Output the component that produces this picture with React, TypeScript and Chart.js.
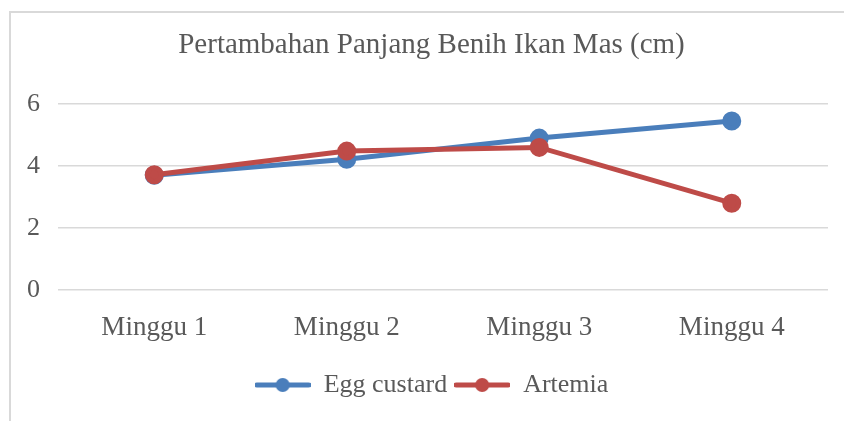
import React, { useEffect, useRef } from "react";
import { Chart, registerables } from "chart.js";

Chart.register(...registerables);

const titleText = "Pertambahan Panjang Benih Ikan Mas (cm)";
const categories = ["Minggu 1", "Minggu 2", "Minggu 3", "Minggu 4"];
const seriesNames = ["Egg custard", "Artemia"];
const eggCustard = [3.7, 4.22, 4.9, 5.45];
const artemia = [3.72, 4.48, 4.6, 2.8];
const yTicks = [0, 2, 4, 6];
const colors = ["#4A7EBB", "#BE4B48"];

const FONT = "'Liberation Serif', 'Times New Roman', serif";
const TEXT = "#595959";

function makeMarker(color: string) {
  const c = document.createElement("canvas");
  c.width = 56;
  c.height = 16;
  const ctx = c.getContext("2d")!;
  ctx.strokeStyle = color;
  ctx.lineWidth = 5;
  ctx.lineCap = "round";
  ctx.beginPath();
  ctx.moveTo(2, 8);
  ctx.lineTo(54, 8);
  ctx.stroke();
  ctx.fillStyle = color;
  ctx.beginPath();
  ctx.arc(28, 8, 7, 0, Math.PI * 2);
  ctx.fill();
  return c;
}

const yAxisLeftFix = {
  id: "yAxisLeftFix",
  afterLayout(chart: any) {
    const y = chart.scales.y;
    if (y) y.left = 0;
  },
};

export default function App() {
  const ref = useRef<HTMLCanvasElement | null>(null);

  useEffect(() => {
    if (!ref.current) return;
    const markers = colors.map((c) => makeMarker(c));
    const values = [eggCustard, artemia];
    const chart = new Chart(ref.current, {
      type: "line",
      data: {
        labels: categories,
        datasets: seriesNames.map((name, i) => ({
          label: name,
          data: values[i],
          borderColor: colors[i],
          backgroundColor: colors[i],
          pointBackgroundColor: colors[i],
          pointBorderColor: colors[i],
          borderWidth: 5,
          pointRadius: 7,
          pointHoverRadius: 7,
          tension: 0,
          order: i === 0 ? 2 : 1,
        })),
      },
      plugins: [yAxisLeftFix],
      options: {
        animation: false,
        responsive: false,
        devicePixelRatio: 1,
        layout: { padding: { left: 35, right: 16, top: 0, bottom: 13 } },
        plugins: {
          tooltip: { enabled: false },
          title: {
            display: true,
            text: titleText,
            color: TEXT,
            font: { family: FONT, size: 29, weight: "normal" },
            padding: { top: 27.6, bottom: 41.6 },
          },
          legend: {
            position: "bottom",
            labels: {
              color: TEXT,
              font: { family: FONT, size: 26 },
              padding: 7,
              usePointStyle: true,
              pointStyleWidth: 56,
              generateLabels: (ch: any) =>
                ch.data.datasets.map((ds: any, i: number) => ({
                  text: ds.label,
                  pointStyle: markers[i],
                  fillStyle: colors[i],
                  strokeStyle: colors[i],
                  lineWidth: 0,
                  fontColor: TEXT,
                  hidden: false,
                  datasetIndex: i,
                })),
            },
          },
        },
        scales: {
          x: {
            offset: true,
            grid: { display: false },
            border: { display: false },
            ticks: {
              color: TEXT,
              font: { family: FONT, size: 27 },
              padding: 14,
              maxRotation: 0,
            },
            afterFit: (s: any) => {
              s.height = 75;
            },
          },
          y: {
            min: 0,
            max: 6,
            grid: { color: "#d9d9d9", lineWidth: 1.5, drawTicks: false },
            border: { display: false },
            ticks: {
              color: TEXT,
              font: { family: FONT, size: 26 },
              padding: 18,
              stepSize: 2,
            },
            afterBuildTicks: (s: any) => {
              s.ticks = yTicks.map((v) => ({ value: v }));
            },
            afterFit: (s: any) => {
              s.width = 58 - 35;
            },
          },
        },
      },
    } as any);
    return () => chart.destroy();
  }, []);

  return (
    <div style={{ position: "fixed", left: 0, top: 0, width: 844, height: 421, background: "#fff", overflow: "hidden" }}>
      <div
        style={{
          position: "absolute",
          left: 9,
          top: 11,
          width: 900,
          height: 500,
          borderLeft: "2px solid #d9d9d9",
          borderTop: "2px solid #d9d9d9",
        }}
      />
      <canvas ref={ref} width={844} height={421} style={{ position: "absolute", left: 0, top: 0, width: 844, height: 421 }} />
    </div>
  );
}
